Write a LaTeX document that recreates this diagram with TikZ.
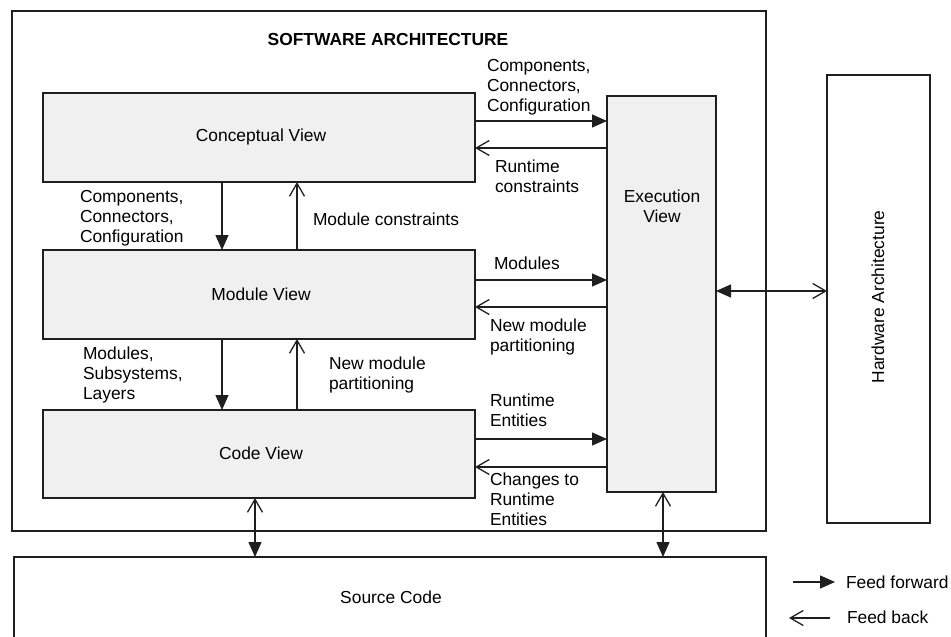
\documentclass[tikz,border=0pt]{standalone}
\usepackage{fontspec}
\setmainfont{Liberation Sans}
\usetikzlibrary{arrows.meta}
\begin{document}
\begin{tikzpicture}[x=1pt,y=-1pt,
  font=\fontsize{17.4}{20}\selectfont,
  line width=1.3pt,
  ink/.style={draw=black!88},
  frame/.style={ink,rectangle,inner sep=0pt,outer sep=0pt},
  viewbox/.style={frame,fill=black!6},
  txt/.style={inner sep=0pt,outer sep=0pt,align=left,anchor=west},
  ff/.style={ink,-{Triangle[length=15pt,width=13pt]}},
  fb/.style={ink,-{Straight Barb[length=13pt,width=15pt]}},
  both/.style={ink,{Straight Barb[length=13pt,width=15pt]}-{Triangle[length=15pt,width=13pt]}}
]
\useasboundingbox (0,0) rectangle (951,637);

% outer boxes
\node[frame,minimum width=754pt,minimum height=520pt] (sa) at (389,271) {};
\node[font=\fontsize{17.4}{20}\selectfont\bfseries] (title) at (388,40) {SOFTWARE ARCHITECTURE};
\node[frame,minimum width=752pt,minimum height=84pt] (src) at (390,599) {};
\node (srclbl) at (391,597) {Source Code};
\node[frame,minimum width=103pt,minimum height=448pt] (hw) at (878.5,299) {};
\node[rotate=90] (hwlbl) at (878,297) {Hardware Architecture};

% the four views
\node[viewbox,minimum width=432pt,minimum height=89pt] (cv) at (259,137.5) {};
\node (cvlbl) at (261,137) {Conceptual View};
\node[viewbox,minimum width=432pt,minimum height=89pt] (mv) at (259,294.5) {};
\node (mvlbl) at (261,294) {Module View};
\node[viewbox,minimum width=432pt,minimum height=88pt] (codev) at (259,454) {};
\node (codelbl) at (261,453) {Code View};
\node[viewbox,minimum width=109pt,minimum height=396pt] (ev) at (661.5,294) {};
\node[align=center] (evlbl) at (662,206) {Execution\\View};

% conceptual <-> module
\draw[ff] ([xshift=179pt]cv.south west) -- ([xshift=179pt]cv.south west |- mv.north);
\draw[fb] ([xshift=254pt]mv.north west) -- ([xshift=254pt]mv.north west |- cv.south);
% module <-> code
\draw[ff] ([xshift=179pt]mv.south west) -- ([xshift=179pt]mv.south west |- codev.north);
\draw[fb] ([xshift=254pt]codev.north west) -- ([xshift=254pt]codev.north west |- mv.south);

% views <-> execution view
\draw[ff] ([yshift=16.5pt]cv.east) -- ([yshift=16.5pt]cv.east -| ev.west);
\draw[fb] ([yshift=-10.5pt]cv.east -| ev.west) -- ([yshift=-10.5pt]cv.east);
\draw[ff] ([yshift=14.5pt]mv.east) -- ([yshift=14.5pt]mv.east -| ev.west);
\draw[fb] ([yshift=-12.5pt]mv.east -| ev.west) -- ([yshift=-12.5pt]mv.east);
\draw[ff] ([yshift=15pt]codev.east) -- ([yshift=15pt]codev.east -| ev.west);
\draw[fb] ([yshift=-13pt]codev.east -| ev.west) -- ([yshift=-13pt]codev.east);

% links to source code and hardware
\draw[both] ([xshift=212pt]codev.south west) -- ([xshift=212pt]codev.south west |- src.north);
\draw[both] ([xshift=1.5pt]ev.south) -- ([xshift=1.5pt]ev.south |- src.north);
\draw[ink,{Triangle[length=15pt,width=13pt]}-{Straight Barb[length=13pt,width=15pt]}]
  ([yshift=3pt]ev.east) -- ([yshift=3pt]ev.east -| hw.west);

% flow labels
\node[txt] (l1) at (487,87) {Components,\\Connectors,\\Configuration};
\node[txt] (l2) at (495,176.5) {Runtime\\constraints};
\node[txt] (l3) at (80,218) {Components,\\Connectors,\\Configuration};
\node[txt] (l4) at (313,219) {Module constraints};
\node[txt] (l5) at (494,263) {Modules};
\node[txt] (l6) at (490,337) {New module\\partitioning};
\node[txt] (l7) at (83,375) {Modules,\\Subsystems,\\Layers};
\node[txt] (l8) at (329,374.5) {New module\\partitioning};
\node[txt] (l9) at (490,410.5) {Runtime\\Entities};
\node[txt] (l10) at (490,499) {Changes to\\Runtime\\Entities};

% legend
\coordinate (ffa) at (793,582);
\coordinate (ffb) at (835,582);
\coordinate (fba) at (830,618);
\coordinate (fbb) at (789,618);
\draw[ff] (ffa) -- (ffb);
\draw[fb] (fba) -- (fbb);
\node[txt] (ffl) at (846,582) {Feed forward};
\node[txt] (fbl) at (847,617) {Feed back};
\end{tikzpicture}
\end{document}
